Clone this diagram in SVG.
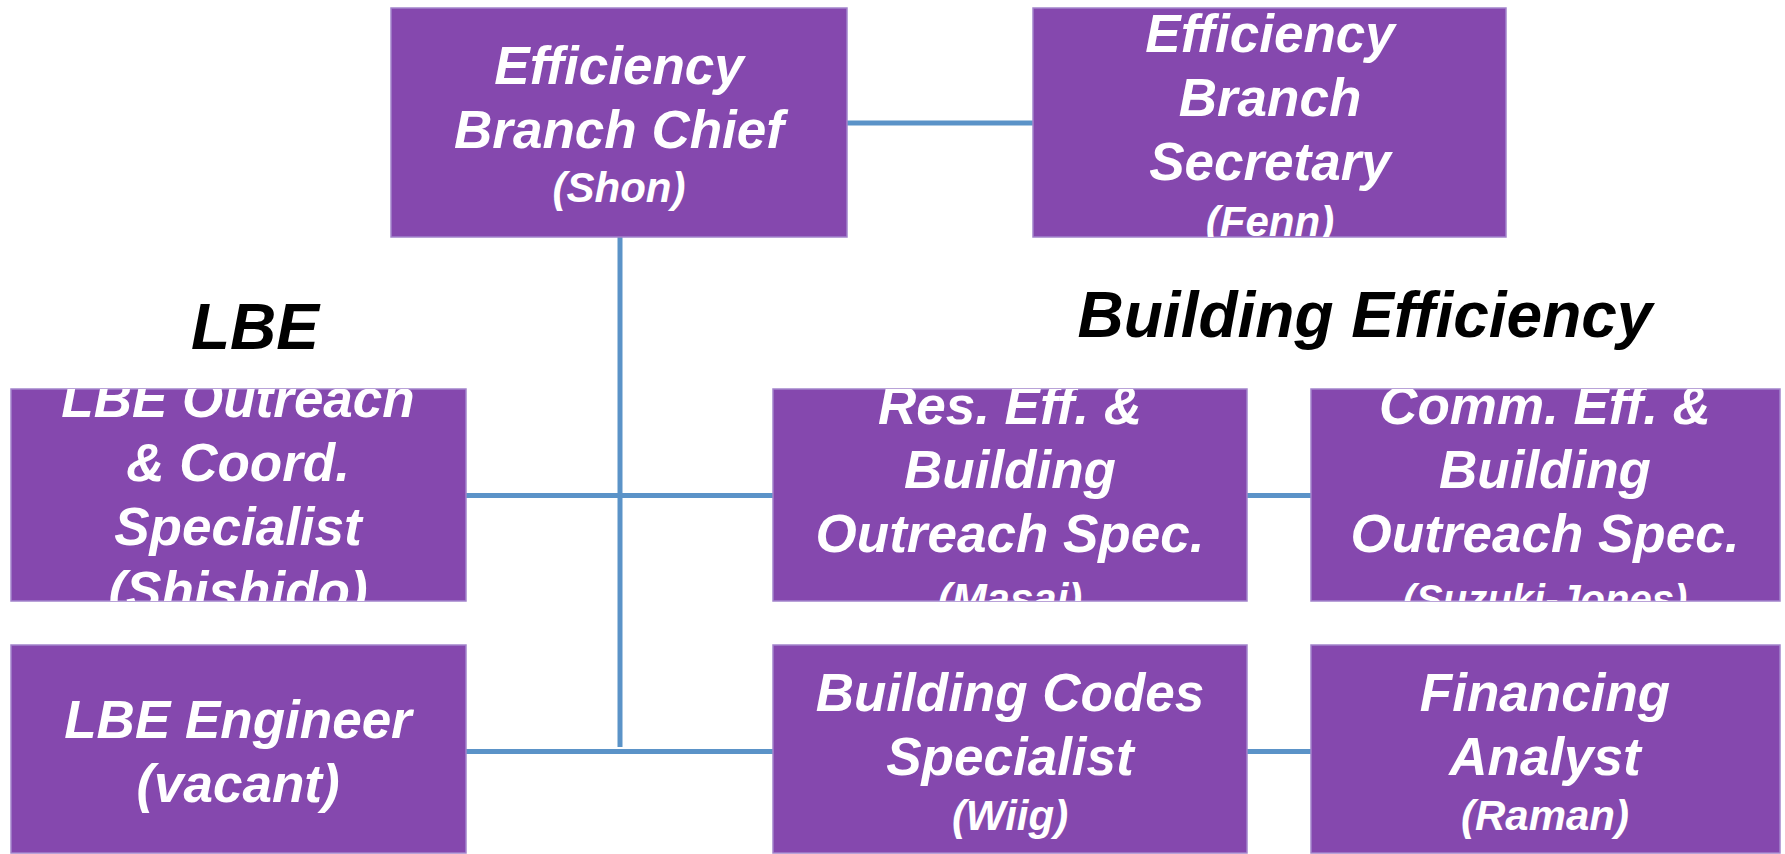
<svg xmlns="http://www.w3.org/2000/svg" width="1785" height="854" viewBox="0 0 1785 854">
<style>
.box{fill:#8548ae;stroke:#a384cc;stroke-width:1.5}
.t{font-family:"Liberation Sans",Arial,sans-serif;font-weight:bold;font-style:italic;fill:#ffffff;text-anchor:middle;font-size:53px}
.s{font-size:42px}
.h{font-family:"Liberation Sans",Arial,sans-serif;font-weight:bold;font-style:italic;fill:#000000;text-anchor:middle;font-size:64px}
.c{stroke:#5b93c8;stroke-width:5;fill:none}
</style>
<defs>
<clipPath id="cp-chief"><rect x="391" y="8" width="456" height="229"/></clipPath>
<clipPath id="cp-sec"><rect x="1033" y="8" width="473" height="229"/></clipPath>
<clipPath id="cp-lbeo"><rect x="11" y="389" width="455" height="212"/></clipPath>
<clipPath id="cp-res"><rect x="773" y="389" width="474" height="212"/></clipPath>
<clipPath id="cp-comm"><rect x="1311" y="389" width="469" height="212"/></clipPath>
<clipPath id="cp-lbee"><rect x="11" y="645" width="455" height="208"/></clipPath>
<clipPath id="cp-codes"><rect x="773" y="645" width="474" height="208"/></clipPath>
<clipPath id="cp-fin"><rect x="1311" y="645" width="469" height="208"/></clipPath>
</defs>
<rect width="1785" height="854" fill="#ffffff"/>
<g id="connectors">
<path class="c" d="M847 123H1033"/>
<path class="c" d="M620 237V747"/>
<path class="c" d="M466 495.5H773"/>
<path class="c" d="M1247 495.5H1311"/>
<path class="c" d="M466 751.5H773"/>
<path class="c" d="M1247 751.5H1311"/>
</g>
<g id="headings">
<text class="h" x="255" y="349">LBE</text>
<text class="h" x="1365" y="337">Building Efficiency</text>
</g>
<g id="chief">
<rect class="box" x="391" y="8" width="456" height="229"/>
<g clip-path="url(#cp-chief)">
<text class="t" x="619" y="84">Efficiency</text>
<text class="t" x="619" y="148">Branch Chief</text>
<text class="t s" x="619" y="202">(Shon)</text>
</g>
</g>
<g id="secretary">
<rect class="box" x="1033" y="8" width="473" height="229"/>
<g clip-path="url(#cp-sec)">
<text class="t" x="1270" y="52">Efficiency</text>
<text class="t" x="1270" y="116">Branch</text>
<text class="t" x="1270" y="180">Secretary</text>
<text class="t s" x="1270" y="236">(Fenn)</text>
</g>
</g>
<g id="lbe-outreach">
<rect class="box" x="11" y="389" width="455" height="212"/>
<g clip-path="url(#cp-lbeo)">
<text class="t" x="238" y="417">LBE Outreach</text>
<text class="t" x="238" y="481">&amp; Coord.</text>
<text class="t" x="238" y="545">Specialist</text>
<text class="t" x="238" y="609">(Shishido)</text>
</g>
</g>
<g id="res-eff">
<rect class="box" x="773" y="389" width="474" height="212"/>
<g clip-path="url(#cp-res)">
<text class="t" x="1010" y="424">Res. Eff. &amp;</text>
<text class="t" x="1010" y="488">Building</text>
<text class="t" x="1010" y="552">Outreach Spec.</text>
<text class="t s" x="1010" y="613">(Masai)</text>
</g>
</g>
<g id="comm-eff">
<rect class="box" x="1311" y="389" width="469" height="212"/>
<g clip-path="url(#cp-comm)">
<text class="t" x="1545" y="424">Comm. Eff. &amp;</text>
<text class="t" x="1545" y="488">Building</text>
<text class="t" x="1545" y="552">Outreach Spec.</text>
<text class="t" x="1545" y="613" style="font-size:40px">(Suzuki-Jones)</text>
</g>
</g>
<g id="lbe-engineer">
<rect class="box" x="11" y="645" width="455" height="208"/>
<g clip-path="url(#cp-lbee)">
<text class="t" x="238" y="738">LBE Engineer</text>
<text class="t" x="238" y="802">(vacant)</text>
</g>
</g>
<g id="codes">
<rect class="box" x="773" y="645" width="474" height="208"/>
<g clip-path="url(#cp-codes)">
<text class="t" x="1010" y="711">Building Codes</text>
<text class="t" x="1010" y="775">Specialist</text>
<text class="t s" x="1010" y="830">(Wiig)</text>
</g>
</g>
<g id="financing">
<rect class="box" x="1311" y="645" width="469" height="208"/>
<g clip-path="url(#cp-fin)">
<text class="t" x="1545" y="711">Financing</text>
<text class="t" x="1545" y="775">Analyst</text>
<text class="t s" x="1545" y="830">(Raman)</text>
</g>
</g>
</svg>
